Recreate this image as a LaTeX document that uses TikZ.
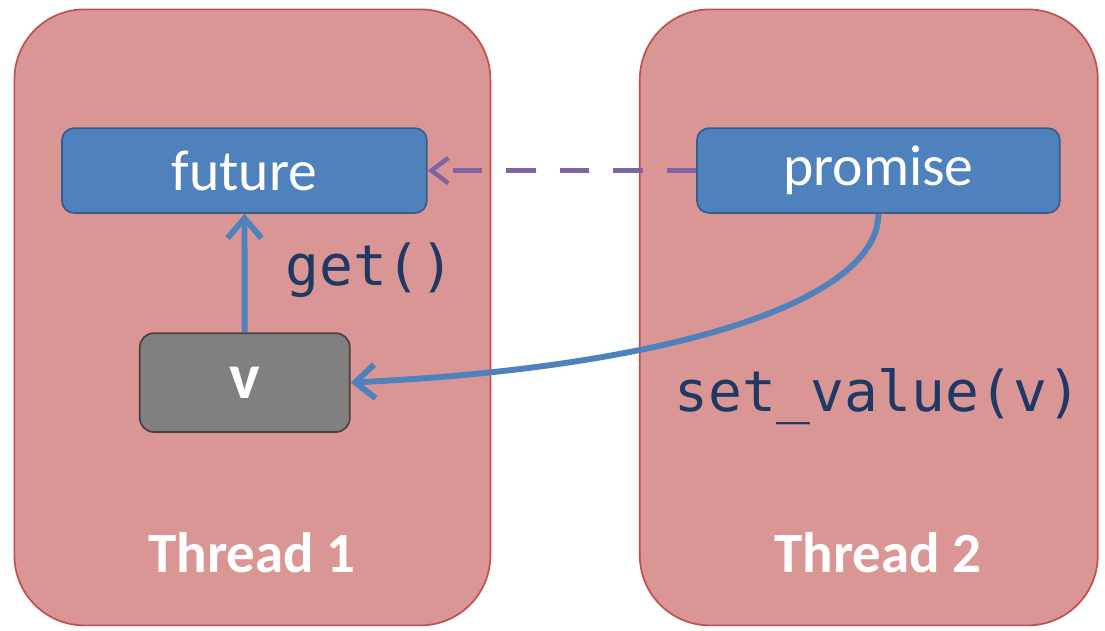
\documentclass[tikz,border=0pt]{standalone}
\usepackage{fontspec}
\setmainfont{Carlito}
\setmonofont{DejaVu Sans Mono}
\usetikzlibrary{arrows.meta, positioning}

\definecolor{threadfill}{HTML}{D99694}
\definecolor{threadline}{HTML}{C0504D}
\definecolor{boxblue}{HTML}{4F81BD}
\definecolor{boxline}{HTML}{385D8A}
\definecolor{valgray}{HTML}{808080}
\definecolor{valline}{HTML}{4A4040}
\definecolor{codenavy}{HTML}{1F3864}
\definecolor{linkpurple}{HTML}{8064A2}

\begin{document}
\begin{tikzpicture}
	\tikzstyle{thread} = [draw=threadline, fill=threadfill, line width=1.2pt, rounded corners=1.75cm, minimum width=11.9cm, minimum height=15.4cm]
	\tikzstyle{obj} = [draw=boxline, fill=boxblue, line width=1.2pt, rounded corners=0.3cm, minimum height=2.12cm, text=white, font=\fontsize{41}{48}\selectfont]
	\tikzstyle{val} = [draw=valline, fill=valgray, line width=1.2pt, rounded corners=0.35cm, minimum width=5.25cm, minimum height=2.47cm, text=white, font=\fontsize{46}{52}\selectfont\bfseries]
	\tikzstyle{code} = [text=codenavy, font=\fontsize{40}{46}\selectfont\ttfamily]
	\tikzstyle{label} = [text=white, font=\fontsize{40.5}{47}\selectfont\bfseries]
	\tikzstyle{sharp} = [-{Straight Barb[length=14pt,width=24pt]}, draw=boxblue, line width=4.2pt]
	\useasboundingbox (0,0) rectangle (27.625,15.775);
	\node (th1) [thread] at (6.31,7.84) {};
	\node (th2) [thread, minimum width=11.45cm] at (21.72,7.84) {};
	\node (fut) [obj, minimum width=9.12cm] at (6.11,11.51) {future};
	\node (prom) [obj, minimum width=9.07cm] at (21.96,11.51) {promise};
	\node (v) [val] at (6.12,6.21) {v};
	\node (get) [code] at (9.25,9.03) {get()};
	\node (set) [code] at (21.95,5.85) {set\_value(v)};
	\node (l1) [label] at (6.3,1.95) {Thread 1};
	\node (l2) [label] at (21.95,1.95) {Thread 2};
	\draw[-{Straight Barb[length=12pt,width=18pt]}, draw=linkpurple, line width=3.2pt, dash pattern=on 21pt off 17pt] (prom) -- (fut);
	\draw[sharp] (v) -- (fut);
	\draw[sharp] (prom.south) .. controls (21.96,8.3) and (17,6.6) .. (v.east);
\end{tikzpicture}
\end{document}
